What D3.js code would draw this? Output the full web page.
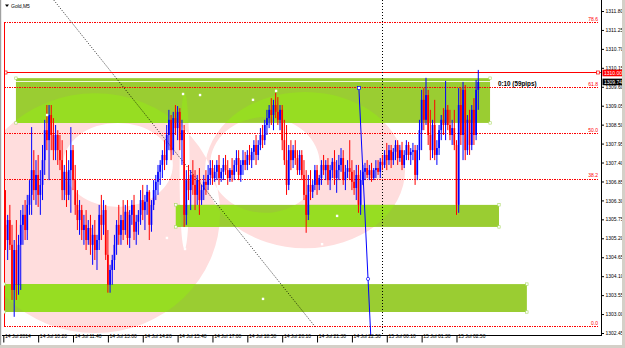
<!DOCTYPE html>
<html><head><meta charset="utf-8">
<script src="https://cdn.jsdelivr.net/npm/d3@7"></script>
<style>
html,body{margin:0;padding:0;background:#fff;overflow:hidden;}
svg{display:block;}
text{font-family:"Liberation Sans",Arial,sans-serif;}
</style></head><body>
<svg id="chart" width="625" height="348"></svg>
<script>
// ---------------- DATA ----------------
const symbol = "Gold,M5";
// [open, high, low, close] per M5 bar, bar 0 = 14 Jul 09:00
const ohlc = [
[1306.17,1306.46,1305.30,1305.59],[1305.59,1306.60,1304.86,1305.15],[1305.15,1305.88,1304.57,1305.73],[1305.73,1306.17,1304.86,1305.01],
[1305.01,1305.59,1303.41,1303.70],[1303.70,1305.15,1302.92,1304.86],[1304.86,1305.73,1303.41,1303.85],[1303.85,1305.30,1303.56,1305.01],
[1305.01,1306.02,1303.70,1305.59],[1305.59,1306.17,1305.01,1305.88],[1305.88,1306.31,1305.15,1305.44],[1305.44,1306.46,1305.15,1306.17],
[1306.17,1306.89,1305.88,1306.46],[1306.46,1308.43,1305.88,1307.18],[1307.18,1307.76,1306.31,1306.60],[1306.60,1307.47,1306.17,1307.04],
[1307.04,1307.62,1306.11,1306.46],[1306.46,1307.18,1305.88,1306.75],[1306.75,1307.91,1306.31,1307.47],[1307.47,1308.64,1307.04,1308.34],
[1308.34,1309.07,1307.76,1308.05],[1308.05,1309.07,1306.89,1308.78],[1308.78,1309.07,1307.76,1308.20],[1308.20,1308.69,1307.47,1307.76],
[1307.76,1308.49,1307.47,1308.20],[1308.20,1308.34,1307.33,1307.76],[1307.76,1308.20,1307.18,1307.47],[1307.47,1308.05,1306.31,1306.60],
[1306.60,1307.33,1306.31,1307.13],[1307.13,1307.76,1306.11,1306.46],[1306.46,1307.47,1306.31,1307.18],[1307.18,1308.43,1305.94,1307.76],
[1307.76,1307.91,1306.60,1306.89],[1306.89,1307.33,1305.88,1306.17],[1306.17,1306.60,1305.44,1305.73],[1305.73,1306.31,1305.30,1306.02],
[1306.02,1306.17,1305.15,1305.44],[1305.44,1305.88,1305.01,1305.59],[1305.59,1306.02,1304.86,1305.15],[1305.15,1305.73,1305.01,1305.50],
[1305.50,1305.88,1304.72,1305.01],[1305.01,1305.59,1304.43,1305.30],[1305.30,1305.73,1304.57,1304.86],[1304.86,1305.30,1304.28,1305.15],
[1305.15,1306.17,1304.86,1305.88],[1305.88,1306.46,1305.15,1305.59],[1305.59,1306.31,1305.30,1306.02],[1306.02,1306.17,1304.57,1304.72],
[1304.72,1305.44,1303.62,1303.85],[1303.85,1304.43,1303.62,1304.28],[1304.28,1304.72,1303.85,1304.57],[1304.57,1305.30,1304.28,1305.01],
[1305.01,1305.73,1304.72,1305.59],[1305.59,1306.17,1305.01,1305.30],[1305.30,1305.88,1305.01,1305.73],[1305.73,1306.31,1305.15,1305.44],
[1305.44,1306.17,1305.30,1305.97],[1305.97,1306.31,1305.01,1305.21],[1305.21,1306.02,1304.92,1305.88],[1305.88,1306.31,1305.59,1306.17],
[1306.17,1306.46,1305.15,1305.39],[1305.39,1305.88,1305.01,1305.68],[1305.68,1306.02,1305.30,1305.88],[1305.88,1306.60,1305.59,1306.31],
[1306.31,1306.75,1305.73,1306.02],[1306.02,1306.46,1305.44,1306.26],[1306.26,1306.75,1305.88,1306.55],[1306.55,1306.60,1305.15,1305.59],
[1305.59,1306.31,1305.39,1306.17],[1306.17,1306.89,1306.02,1306.60],[1306.60,1307.04,1306.31,1306.84],[1306.84,1307.33,1306.46,1307.13],
[1307.13,1307.47,1306.75,1307.33],[1307.33,1307.76,1306.95,1307.62],[1307.62,1308.05,1307.18,1307.47],[1307.47,1308.49,1307.33,1308.20],
[1308.20,1308.93,1307.76,1308.64],[1308.64,1308.78,1307.47,1307.76],[1307.76,1308.87,1307.62,1308.69],[1308.69,1309.07,1308.20,1308.40],
[1308.40,1309.04,1308.05,1308.87],[1308.87,1308.98,1307.76,1308.05],[1308.05,1308.64,1307.33,1308.34],[1308.34,1308.49,1305.53,1305.88],
[1305.88,1307.18,1305.59,1306.89],[1306.89,1307.33,1306.31,1306.60],[1306.60,1307.18,1306.02,1307.04],[1307.04,1307.47,1306.46,1306.75],
[1306.75,1307.18,1306.02,1306.46],[1306.46,1307.04,1306.17,1306.89],[1306.89,1307.24,1305.88,1306.31],[1306.31,1306.75,1306.17,1306.60],
[1306.60,1307.04,1306.31,1306.84],[1306.84,1307.18,1306.46,1306.75],[1306.75,1307.33,1306.60,1307.04],[1307.04,1307.47,1306.75,1307.24],
[1307.24,1307.47,1306.75,1306.95],[1306.95,1307.33,1306.84,1307.13],[1307.13,1307.47,1306.89,1307.33],[1307.33,1307.62,1306.75,1306.95],
[1306.95,1307.24,1306.84,1307.13],[1307.13,1307.53,1306.89,1307.33],[1307.33,1307.62,1307.04,1307.18],[1307.18,1307.47,1306.75,1306.95],
[1306.95,1307.24,1306.84,1307.18],[1307.18,1307.53,1306.84,1307.04],[1307.04,1307.47,1306.89,1307.33],[1307.33,1307.76,1307.13,1307.53],
[1307.53,1307.76,1306.89,1307.04],[1307.04,1307.47,1306.84,1307.33],[1307.33,1307.76,1307.04,1307.47],[1307.47,1307.71,1307.18,1307.33],
[1307.33,1307.76,1307.18,1307.62],[1307.62,1307.91,1307.33,1307.47],[1307.47,1307.82,1307.24,1307.71],[1307.71,1308.05,1307.47,1307.91],
[1307.91,1308.20,1307.33,1307.62],[1307.62,1308.05,1307.47,1307.91],[1307.91,1308.40,1307.76,1308.20],[1308.20,1308.49,1307.82,1308.05],
[1308.05,1308.64,1307.91,1308.49],[1308.49,1308.93,1308.20,1308.69],[1308.69,1309.07,1308.40,1308.93],[1308.93,1309.27,1308.49,1308.78],
[1308.78,1309.22,1308.34,1309.07],[1309.07,1309.42,1308.69,1308.87],[1308.87,1309.30,1308.49,1308.64],[1308.64,1309.07,1308.34,1308.93],
[1308.93,1309.07,1307.76,1308.05],[1308.05,1308.64,1307.33,1307.47],[1307.47,1308.49,1306.46,1306.75],[1306.75,1307.91,1306.60,1307.76],
[1307.76,1308.05,1307.18,1307.47],[1307.47,1307.91,1307.24,1307.76],[1307.76,1308.05,1307.33,1307.53],[1307.53,1307.76,1307.04,1307.18],
[1307.18,1307.76,1307.04,1307.62],[1307.62,1307.76,1306.89,1307.04],[1307.04,1307.47,1306.31,1306.46],[1306.46,1307.18,1305.36,1305.88],
[1305.88,1307.04,1305.73,1306.75],[1306.75,1307.18,1306.31,1306.55],[1306.55,1306.89,1306.37,1306.75],[1306.75,1307.33,1306.60,1307.18],
[1307.18,1307.33,1306.46,1306.75],[1306.75,1307.04,1306.60,1306.95],[1306.95,1307.47,1306.75,1307.33],[1307.33,1307.62,1307.04,1307.18],
[1307.18,1307.47,1306.89,1307.33],[1307.33,1307.53,1306.75,1306.89],[1306.89,1307.33,1306.60,1307.18],[1307.18,1307.53,1306.95,1307.42],
[1307.42,1307.76,1306.75,1306.95],[1306.95,1307.47,1306.52,1307.18],[1307.18,1307.62,1306.89,1307.33],[1307.33,1307.82,1307.13,1307.53],
[1307.53,1307.76,1306.75,1306.89],[1306.89,1307.33,1306.60,1307.13],[1307.13,1307.47,1306.95,1307.24],[1307.24,1308.05,1306.89,1307.13],
[1307.13,1307.47,1306.60,1306.84],[1306.84,1307.18,1306.46,1306.66],[1306.66,1307.33,1306.31,1307.04],[1307.04,1307.33,1305.94,1306.17],
[1306.17,1307.18,1305.88,1306.89],[1306.89,1307.33,1306.75,1307.13],[1307.13,1307.39,1306.89,1307.24],[1307.24,1307.47,1306.95,1307.04],
[1307.04,1307.33,1306.89,1307.18],[1307.18,1307.39,1306.84,1306.95],[1306.95,1307.24,1306.89,1307.18],[1307.18,1307.47,1306.95,1307.24],
[1307.24,1307.47,1307.04,1307.13],[1307.13,1307.53,1306.95,1307.42],[1307.42,1307.62,1307.18,1307.33],[1307.33,1307.76,1307.24,1307.62],
[1307.62,1307.97,1307.18,1307.47],[1307.47,1307.91,1307.33,1307.76],[1307.76,1307.91,1307.24,1307.47],[1307.47,1307.82,1307.33,1307.71],
[1307.71,1308.05,1307.47,1307.91],[1307.91,1308.05,1307.33,1307.53],[1307.53,1307.91,1307.42,1307.76],[1307.76,1308.00,1307.18,1307.33],
[1307.33,1307.76,1307.24,1307.62],[1307.62,1308.05,1307.47,1307.91],[1307.91,1308.00,1307.47,1307.62],[1307.62,1307.82,1307.33,1307.71],
[1307.71,1307.97,1307.47,1307.76],[1307.76,1307.91,1306.75,1307.04],[1307.04,1307.91,1306.89,1307.76],[1307.76,1308.64,1307.47,1308.34],
[1308.34,1309.51,1307.76,1309.22],[1309.22,1309.56,1308.34,1308.64],[1308.64,1309.86,1308.49,1309.36],[1309.36,1309.51,1307.91,1308.20],
[1308.20,1308.93,1307.47,1307.76],[1307.76,1308.64,1307.53,1308.49],[1308.49,1309.22,1307.47,1307.62],[1307.62,1308.05,1307.33,1307.82],
[1307.82,1308.49,1307.62,1308.34],[1308.34,1308.78,1308.05,1308.64],[1308.64,1308.98,1308.20,1308.49],[1308.49,1309.77,1308.05,1308.93],
[1308.93,1309.07,1308.34,1308.49],[1308.49,1308.93,1308.05,1308.20],[1308.20,1308.64,1307.91,1308.40],[1308.40,1308.93,1307.76,1307.91],
[1307.91,1308.05,1305.88,1306.17],[1306.17,1309.56,1305.94,1309.07],[1309.07,1309.56,1307.91,1308.20],[1308.20,1309.74,1307.47,1309.51],
[1309.51,1309.65,1307.47,1307.76],[1307.76,1308.78,1307.62,1308.64],[1308.64,1308.93,1307.62,1307.91],[1307.91,1309.07,1307.76,1308.93],
[1308.93,1309.27,1307.91,1308.20],[1308.20,1309.80,1308.05,1309.51],[1309.51,1310.09,1308.93,1309.74]
];
const timeTicks = [0,16,32,48,64,80,96,112,128,144,160,176,192,208];
const timeLabels = ["14 Jul 2014","14 Jul 10:20","14 Jul 11:40","14 Jul 13:00","14 Jul 14:20","14 Jul 15:40","14 Jul 17:00",
  "14 Jul 18:50","14 Jul 20:10","14 Jul 21:30","14 Jul 22:50","15 Jul 00:10","15 Jul 01:30","15 Jul 02:50"];
const priceTicks = [1311.80,1311.25,1310.70,1310.15,1309.60,1309.05,1308.50,1307.95,1307.40,1306.85,1306.30,1305.75,1305.20,1304.65,1304.10,1303.55,1303.00,1302.45];
const alertPrice = 1310.00;
const bidPrice = 1309.74;
const fibRatios = [0.0, 38.2, 50.0, 61.8, 78.6];
const fibFrom = [1, 1313.87];      // bar, price (100%)
const fibTo = [143, 1302.64];      // bar, price (0%)
// zones: [bar1, bar2, priceTop, priceBottom]
const zoneBars1 = [5.8, 79.2, 0.3];
const zoneBars2 = [223.4, 227.5, 240.3];
const zoneTops = [1309.85, 1306.17, 1303.87];
const zoneBottoms = [1308.55, 1305.53, 1303.06];
// ellipses: centre bar, centre price, radius in bars, radius in price
const ellCx = [42.1, 52.6, 83.2, 138.5, 120.1];
const ellCy = [1305.93, 1307.33, 1307.15, 1307.18, 1307.33];
const ellRx = [57.4, 25.2, 2.3, 45.9, 25.2];
const ellRy = [3.48, 1.22, 2.27, 2.27, 1.39];
const separatorBar = 174;
const rayFrom = [163.2, 1309.56];
const rayTo = [167.4, 1304.02];
const anchorBars = [20.1, 82.5, 90.3, 125.2, 114.6, 83.4, 119.2, 153.2, 146.3, 75.1];
const anchorPrices = [1308.78, 1309.39, 1309.36, 1309.48, 1309.22, 1304.89, 1303.44, 1305.85, 1305.03, 1305.21];
const infoLabel = "0:10 (59pips)";

// ---------------- DRAW ----------------
const W = 625, H = 348;
const plotL = 4, plotR = 601, plotT = 0, plotB = 335;
const RED = "#ff0000";
const svg = d3.select("#chart");
const x = d3.scaleLinear().domain([0, 274]).range([3.3, 600.3]);
const y = d3.scaleLinear().domain([1302.45, 1311.80]).range([333, 11]);

svg.append("rect").attr("width", W).attr("height", H).attr("fill", "#fff");
const defs = svg.append("defs");
defs.append("clipPath").attr("id", "plotclip").append("rect")
  .attr("x", plotL).attr("y", plotT).attr("width", plotR - plotL).attr("height", plotB - plotT);
// red dash-dot pattern for fibo levels
const pat = defs.append("pattern").attr("id", "dashdot").attr("patternUnits", "userSpaceOnUse")
  .attr("x", plotL).attr("y", 0).attr("width", 5).attr("height", 1);
pat.append("rect").attr("x", 0).attr("y", 0).attr("width", 2).attr("height", 1).attr("fill", RED);
pat.append("rect").attr("x", 3).attr("y", 0).attr("width", 1).attr("height", 1).attr("fill", RED);
// black dotted vertical pattern
const patV = defs.append("pattern").attr("id", "vdots").attr("patternUnits", "userSpaceOnUse")
  .attr("x", 0).attr("y", 0).attr("width", 1).attr("height", 3);
patV.append("rect").attr("x", 0).attr("y", 0).attr("width", 1).attr("height", 1).attr("fill", "#000");

function ellPath(i) {
  const cx = x(ellCx[i]), cy = y(ellCy[i]);
  const rx = x(ellCx[i] + ellRx[i]) - cx, ry = cy - y(ellCy[i] + ellRy[i]);
  return `M${cx - rx},${cy}A${rx},${ry} 0 1,0 ${cx + rx},${cy}A${rx},${ry} 0 1,0 ${cx - rx},${cy}Z`;
}
const pinkD = ellCx.map((_, i) => ellPath(i)).join("");
defs.append("clipPath").attr("id", "pinkclip").append("path")
  .attr("d", pinkD).attr("clip-rule", "evenodd");

const g = svg.append("g").attr("clip-path", "url(#plotclip)");

// pink ellipses (xor-like overlap via evenodd)
g.append("path").attr("d", pinkD).attr("fill", "#ffdddd").attr("fill-rule", "evenodd");

// zones
const zones = zoneBars1.map((b, i) => ({x1: x(b), x2: x(zoneBars2[i]), y1: y(zoneTops[i]), y2: y(zoneBottoms[i])}));
g.selectAll("rect.zone").data(zones).join("rect").attr("class", "zone")
  .attr("x", d => d.x1).attr("y", d => d.y1).attr("width", d => d.x2 - d.x1).attr("height", d => d.y2 - d.y1)
  .attr("fill", "#9acd32");
g.append("g").attr("clip-path", "url(#pinkclip)").selectAll("rect").data(zones).join("rect")
  .attr("x", d => d.x1).attr("y", d => d.y1).attr("width", d => d.x2 - d.x1).attr("height", d => d.y2 - d.y1)
  .attr("fill", "#97dd22");
// bid line (white)
g.append("rect").attr("x", plotL).attr("width", plotR - plotL).attr("y", Math.round(y(bidPrice)) - 1).attr("height", 1)
  .attr("fill", "#ffffff").attr("opacity", 0.85);

// fib levels
const fibPrice = r => fibTo[1] + (fibFrom[1] - fibTo[1]) * r / 100;
g.selectAll("rect.fib").data(fibRatios).join("rect").attr("class", "fib")
  .attr("x", plotL).attr("width", 598 - plotL).attr("y", d => Math.round(y(fibPrice(d)))).attr("height", 1)
  .attr("fill", "url(#dashdot)");
g.selectAll("text.fib").data(fibRatios).join("text").attr("class", "fib")
  .attr("x", 598).attr("y", d => y(fibPrice(d)) - 1.5).attr("text-anchor", "end")
  .attr("font-size", 5).attr("fill", RED).text(d => d.toFixed(1));
// fib trend line
g.append("line").attr("x1", x(fibFrom[0])).attr("y1", y(fibFrom[1])).attr("x2", x(fibTo[0])).attr("y2", y(fibTo[1]))
  .attr("stroke", "#000").attr("stroke-width", 0.8).attr("stroke-dasharray", "1,1.5");

// alert line 1310.00
const ya = Math.floor(y(alertPrice));
g.append("rect").attr("x", plotL).attr("width", plotR - plotL).attr("y", ya).attr("height", 1).attr("fill", RED);
[plotL + 1.5, 598].forEach(px => g.append("rect").attr("x", px - 1.5).attr("y", ya - 1).attr("width", 3).attr("height", 3)
  .attr("fill", "#fff").attr("stroke", RED).attr("stroke-width", 0.7));
// red vertical at left edge
g.append("rect").attr("x", 4).attr("width", 1).attr("y", y(fibPrice(78.6))).attr("height", y(fibPrice(0)) - y(fibPrice(78.6)))
  .attr("fill", RED);

// period separator
g.append("rect").attr("x", Math.round(x(separatorBar))).attr("width", 1).attr("y", plotT).attr("height", plotB - plotT)
  .attr("fill", "url(#vdots)");

// zone corner markers
zones.forEach(z => {
  [[z.x1, z.y1], [z.x1, z.y2], [z.x2, z.y1], [z.x2, z.y2]].forEach(([px, py]) =>
    g.append("rect").attr("x", px - 1.2).attr("y", py - 1.2).attr("width", 2.4).attr("height", 2.4)
      .attr("fill", "#fff").attr("stroke", "#a8d860").attr("stroke-width", 0.6));
});

// candles
const cw = 1.7;
const cg = g.append("g");
cg.selectAll("rect.wick").data(ohlc).join("rect").attr("class", "wick")
  .attr("x", (d, i) => x(i) - 0.5).attr("width", 1)
  .attr("y", d => y(d[1])).attr("height", d => y(d[2]) - y(d[1]))
  .attr("fill", d => d[3] >= d[0] ? "#0000ff" : RED);
cg.selectAll("rect.body").data(ohlc).join("rect").attr("class", "body")
  .attr("x", (d, i) => x(i) - cw / 2).attr("width", cw)
  .attr("y", d => y(Math.max(d[0], d[3]))).attr("height", d => Math.max(0.8, Math.abs(y(d[0]) - y(d[3]))))
  .attr("fill", d => d[3] >= d[0] ? "#0000ff" : RED);

// blue ray
const slope = (rayTo[1] - rayFrom[1]) / (rayTo[0] - rayFrom[0]);
const endPrice = 1302.2, endBar = rayFrom[0] + (endPrice - rayFrom[1]) / slope;
g.append("line").attr("x1", x(rayFrom[0])).attr("y1", y(rayFrom[1])).attr("x2", x(endBar)).attr("y2", y(endPrice))
  .attr("stroke", "#0000ff").attr("stroke-width", 1);
g.append("rect").attr("x", x(rayFrom[0]) - 1.5).attr("y", y(rayFrom[1]) - 1.5).attr("width", 3).attr("height", 3)
  .attr("fill", "#fff").attr("stroke", "#0000ff").attr("stroke-width", 0.7);
g.append("circle").attr("cx", x(rayTo[0])).attr("cy", y(rayTo[1])).attr("r", 1.6)
  .attr("fill", "#fff").attr("stroke", "#0000ff").attr("stroke-width", 0.7);

// anchor dots
g.selectAll("rect.anchor").data(anchorBars).join("rect").attr("class", "anchor")
  .attr("x", d => x(d) - 1.2).attr("y", (d, i) => y(anchorPrices[i]) - 1.2).attr("width", 2.4).attr("height", 2.4)
  .attr("fill", "#fff");

// info label
g.append("text").attr("x", 498).attr("y", y(bidPrice) + 4.3).attr("font-size", 6.3).attr("font-weight", "bold")
  .attr("fill", "#000").text(infoLabel);

// ---------------- AXES ----------------
svg.append("rect").attr("x", plotR).attr("width", 1).attr("y", 0).attr("height", plotB + 1).attr("fill", "#000");
svg.append("rect").attr("x", plotL - 2).attr("width", plotR - plotL + 3).attr("y", plotB).attr("height", 1).attr("fill", "#000");

const yAxis = svg.append("g").attr("transform", `translate(${plotR + 0.5},0)`)
  .call(d3.axisRight(y).tickValues(priceTicks).tickFormat(d3.format(".2f")).tickSize(2.5).tickPadding(1.5));
yAxis.select(".domain").remove();
yAxis.selectAll("text").attr("font-size", 5).attr("font-family", "Liberation Sans, Arial, sans-serif").attr("fill", "#000");

const xAxis = svg.append("g").attr("transform", `translate(0,${plotB + 0.5})`)
  .call(d3.axisBottom(x).tickValues(timeTicks).tickFormat((d, i) => timeLabels[i]).tickSize(7).tickPadding(0));
xAxis.select(".domain").remove();
xAxis.selectAll("text").attr("font-size", 5).attr("font-family", "Liberation Sans, Arial, sans-serif").attr("fill", "#000")
  .attr("text-anchor", "start").attr("dx", 1.2).attr("dy", 0).attr("y", 2.2);

// price labels on axis
function priceBox(price, bg, fg) {
  const yy = y(price);
  svg.append("rect").attr("x", plotR + 1.5).attr("y", yy - 3.3).attr("width", 21).attr("height", 6.6).attr("fill", bg);
  svg.append("text").attr("x", plotR + 3).attr("y", yy + 1.8).attr("font-size", 5).attr("fill", fg).text(price.toFixed(2));
}
priceBox(alertPrice, RED, "#fff");
priceBox(bidPrice, "#000", "#fff");

// symbol title
svg.append("path").attr("d", "M5,4.5 L9,4.5 L7,7 Z").attr("fill", "#000");
svg.append("text").attr("x", 11).attr("y", 8).attr("font-size", 5).attr("fill", "#000").text(symbol);

// window frame
svg.append("rect").attr("x", 0).attr("y", 0).attr("width", 1.2).attr("height", H).attr("fill", "#a0a0a0");
svg.append("rect").attr("x", 0).attr("y", 345).attr("width", W).attr("height", 3).attr("fill", "#d4d0c8");
svg.append("rect").attr("x", 622).attr("y", 0).attr("width", 3).attr("height", H).attr("fill", "#d4d0c8");
</script>
</body></html>
